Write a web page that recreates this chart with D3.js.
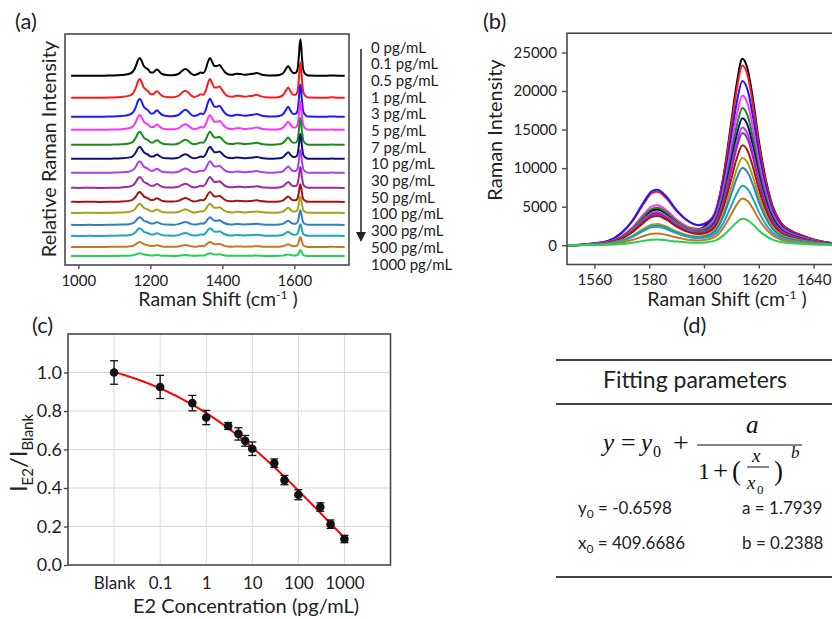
<!DOCTYPE html>
<html>
<head>
<meta charset="utf-8">
<script src="https://cdn.jsdelivr.net/npm/d3@7"></script>
<style>
  body { margin: 0; background: #fff; }
  svg { display: block; font-family: Lato, "Open Sans", sans-serif; fill: #222; }
  .frame { fill: none; stroke: #4a4a4a; stroke-width: 1.6; }
  .axis path { display: none; }
  .axis line { stroke: #4a4a4a; stroke-width: 1.4; }
  .axis text { fill: #222; font-family: Lato, "Open Sans", sans-serif; }
  .grid line { stroke: #d9d9d9; stroke-width: 1; }
  .trace { fill: none; stroke-width: 2; stroke-linejoin: round; }
  .rule { stroke: #444; stroke-width: 2; }
  .math { font-family: "Liberation Serif", "DejaVu Serif", serif; fill: #111; }
</style>
</head>
<body>
<div id="chart"></div>
<script>
// series shared by panels (a) and (b)
const concLabels = ["0 pg/mL", "0.1 pg/mL", "0.5 pg/mL", "1 pg/mL", "3 pg/mL", "5 pg/mL",
  "7 pg/mL", "10 pg/mL", "30 pg/mL", "50 pg/mL", "100 pg/mL", "300 pg/mL", "500 pg/mL", "1000 pg/mL"];
const seriesColors = ["#000000", "#ff1a1a", "#1a1aff", "#ff33ff", "#1a8c1a", "#10107a", "#b03cf0",
  "#9c2b9c", "#a81414", "#a3a31a", "#2f7fc1", "#1ea7b8", "#c7771f", "#22d155"];

// (a) stacked spectra: vertical offset, scale of the minor bands, height of the 1617 band
const offsetsA = [1.89, 1.67, 1.48, 1.35, 1.20, 1.06, 0.92, 0.77, 0.63, 0.52, 0.40, 0.29, 0.18, 0.09];
const minorScaleA = [1.0, 1.05, 1.02, 0.83, 0.74, 0.68, 0.65, 0.61, 0.56, 0.52, 0.43, 0.43, 0.28, 0.15];
const mainPeakA = [0.35, 0.34, 0.31, 0.27, 0.26, 0.24, 0.22, 0.20, 0.17, 0.16, 0.14, 0.11, 0.095, 0.058];
// [Raman shift, minor bands, 1617 band (normalised)]
const spectrumA = [
  [980, 0.003, 0], [1000, 0.002, 0], [1030, 0.003, 0], [1060, 0.002, 0], [1090, 0.005, 0],
  [1120, 0.010, 0], [1140, 0.020, 0], [1152, 0.045, 0], [1160, 0.10, 0], [1166, 0.16, 0],
  [1171, 0.18, 0], [1176, 0.15, 0], [1182, 0.10, 0], [1188, 0.08, 0], [1194, 0.065, 0],
  [1201, 0.035, 0], [1208, 0.035, 0], [1214, 0.055, 0], [1219, 0.065, 0], [1225, 0.045, 0],
  [1233, 0.02, 0], [1245, 0.01, 0], [1262, 0.008, 0], [1278, 0.02, 0], [1288, 0.05, 0],
  [1297, 0.07, 0], [1305, 0.055, 0], [1313, 0.025, 0], [1322, 0.01, 0], [1332, 0.02, 0],
  [1340, 0.035, 0], [1347, 0.03, 0], [1354, 0.07, 0], [1360, 0.14, 0], [1366, 0.18, 0],
  [1372, 0.14, 0], [1378, 0.10, 0], [1385, 0.10, 0], [1392, 0.11, 0], [1399, 0.08, 0],
  [1407, 0.04, 0], [1416, 0.018, 0], [1428, 0.012, 0], [1440, 0.022, 0], [1450, 0.02, 0],
  [1462, 0.012, 0], [1475, 0.018, 0], [1485, 0.022, 0], [1496, 0.03, 0], [1506, 0.018, 0],
  [1520, 0.008, 0], [1540, 0.005, 0], [1558, 0.01, 0], [1568, 0.025, 0], [1576, 0.065, 0],
  [1583, 0.10, 0], [1590, 0.06, 0], [1597, 0.03, 0], [1604, 0.025, 0.02], [1609, 0.025, 0.12],
  [1613, 0.02, 0.55], [1615, 0.018, 0.85], [1617, 0.015, 1.0], [1619, 0.012, 0.85], [1621, 0.01, 0.55],
  [1625, 0.008, 0.15], [1631, 0.006, 0.04], [1640, 0.004, 0], [1660, 0.003, 0], [1690, 0.003, 0],
  [1705, 0.006, 0], [1720, 0.003, 0], [1740, 0.002, 0]
];
const ticksA = [1000, 1200, 1400, 1600];

// (b) raw spectra: heights of the ~1582 and ~1614 bands
const bandLowB = [4300, 6600, 6900, 4900, 4600, 3900, 4100, 3800, 3600, 2600, 2400, 2300, 1450, 680];
const bandHighB = [24000, 23000, 21000, 19200, 17600, 16300, 15100, 14400, 12800, 11200, 9900, 7600, 6000, 3400];
// [Raman shift, 1582 band shape, 1614 band shape]
const spectrumB = [
  [1550, 0, 0], [1555, 0.01, 0], [1560, 0.03, 0.002], [1565, 0.07, 0.004], [1570, 0.22, 0.006],
  [1574, 0.45, 0.008], [1578, 0.78, 0.01], [1581, 0.98, 0.012], [1583, 1.0, 0.014], [1586, 0.88, 0.016],
  [1590, 0.6, 0.02], [1594, 0.38, 0.028], [1598, 0.24, 0.045], [1601, 0.17, 0.08], [1604, 0.12, 0.15],
  [1607, 0.085, 0.35], [1610, 0.06, 0.66], [1612, 0.05, 0.87], [1614, 0.045, 1.0], [1616, 0.04, 0.94],
  [1618, 0.035, 0.77], [1620, 0.03, 0.56], [1622, 0.025, 0.39], [1625, 0.02, 0.21], [1628, 0.015, 0.12],
  [1632, 0.01, 0.075], [1636, 0.008, 0.05], [1640, 0.005, 0.03], [1645, 0.002, 0.015], [1650, 0, 0.008]
];
const ticksBx = [1560, 1580, 1600, 1620, 1640];
const ticksBy = [0, 5000, 10000, 15000, 20000, 25000];

// (c) calibration points
const concNames = ["Blank", "0.1", "0.5", "1", "3", "5", "7", "10", "30", "50", "100", "300", "500", "1000"];
const concValues = [0.01, 0.1, 0.5, 1, 3, 5, 7, 10, 30, 50, 100, 300, 500, 1000];
const ratioValues = [1.0, 0.925, 0.841, 0.766, 0.722, 0.681, 0.645, 0.604, 0.529, 0.441, 0.365, 0.301, 0.212, 0.135];
const ratioErrors = [0.061, 0.06, 0.04, 0.037, 0.018, 0.032, 0.028, 0.035, 0.022, 0.024, 0.026, 0.022, 0.022, 0.019];
const ticksCx = [0.01, 0.1, 1, 10, 100, 1000];
const tickLabelsCx = ["Blank", "0.1", "1", "10", "100", "1000"];
const ticksCy = [0, 0.2, 0.4, 0.6, 0.8, 1.0];

// (d) fitted parameters
const fitY0 = -0.6598;
const fitA = 1.7939;
const fitX0 = 409.6686;
const fitB = 0.2388;

const svg = d3.select("#chart").append("svg").attr("width", 832).attr("height", 619);

const addLabel = (x, y, str, size) =>
  svg.append("text").attr("x", x).attr("y", y).attr("font-size", size).text(str);

const shiftLabel = (x, y) => {
  const t = svg.append("text").attr("x", x).attr("y", y)
    .attr("text-anchor", "middle").attr("font-size", 19.5);
  t.append("tspan").text("Raman Shift (cm");
  t.append("tspan").attr("font-size", 12).attr("dy", -7).text("-1");
  t.append("tspan").attr("dy", 7).text(" )");
};

const drawPanelA = () => {
  const x = d3.scaleLinear().domain([963, 1752]).range([65, 349]);
  const y = d3.scaleLinear().domain([0, 2.31]).range([265, 34]);
  const line = d3.line().curve(d3.curveMonotoneX);
  const g = svg.append("g");

  concLabels.forEach((lab, i) => {
    const pts = spectrumA.map(([w, minor, main]) =>
      [x(w), y(offsetsA[i] + minor * minorScaleA[i] + main * mainPeakA[i])]);
    g.append("path").attr("class", "trace").attr("stroke", seriesColors[i]).attr("d", line(pts));
  });

  g.append("rect").attr("class", "frame")
    .attr("x", 65).attr("y", 34).attr("width", 284).attr("height", 231);

  g.append("g").attr("class", "axis").attr("transform", "translate(0,265)")
    .call(d3.axisBottom(x).tickValues(ticksA).tickSize(4).tickSizeOuter(0).tickPadding(6)
      .tickFormat(d3.format("d")))
    .selectAll("text").attr("font-size", 15);

  svg.append("text").attr("transform", "translate(56,149) rotate(-90)")
    .attr("text-anchor", "middle").attr("font-size", 20).text("Relative Raman Intensity");
  shiftLabel(218, 306);

  // concentration list with arrow
  const rowY = d3.scalePoint().domain(concLabels).range([47, 264]);
  svg.append("line").attr("x1", 361).attr("x2", 361).attr("y1", 49).attr("y2", 234)
    .attr("stroke", "#222").attr("stroke-width", 1.5);
  svg.append("path").attr("d", "M356,232 L366,232 L361,242 Z").attr("fill", "#222");
  svg.append("g").selectAll("text").data(concLabels).join("text")
    .attr("x", 371).attr("y", d => rowY(d) + 5.5).attr("font-size", 15).text(d => d);
};

const drawPanelB = () => {
  const x = d3.scaleLinear().domain([1550, 1650]).range([567, 841]);
  const y = d3.scaleLinear().domain([-2500, 27500]).range([264.5, 33.2]);
  const line = d3.line().curve(d3.curveMonotoneX);
  const g = svg.append("g");

  concLabels.forEach((lab, i) => {
    const pts = spectrumB.map(([w, low, high]) =>
      [x(w), y(low * bandLowB[i] + high * bandHighB[i])]);
    g.append("path").attr("class", "trace").attr("stroke", seriesColors[i]).attr("d", line(pts));
  });

  g.append("rect").attr("class", "frame")
    .attr("x", 567).attr("y", 33.2).attr("width", 274).attr("height", 231.3);

  g.append("g").attr("class", "axis").attr("transform", "translate(0,264.5)")
    .call(d3.axisBottom(x).tickValues(ticksBx).tickSize(4).tickSizeOuter(0).tickPadding(6)
      .tickFormat(d3.format("d")))
    .selectAll("text").attr("font-size", 15);
  g.append("g").attr("class", "axis").attr("transform", "translate(567,0)")
    .call(d3.axisLeft(y).tickValues(ticksBy).tickSize(5).tickSizeOuter(0).tickPadding(5).tickFormat(d3.format("d")))
    .selectAll("text").attr("font-size", 15);

  svg.append("text").attr("transform", "translate(502,130) rotate(-90)")
    .attr("text-anchor", "middle").attr("font-size", 20).text("Raman Intensity");
  shiftLabel(727, 306);
};

const drawPanelC = () => {
  const x = d3.scaleLog().domain([0.001, 10000]).range([68, 390.5]);
  const y = d3.scaleLinear().domain([0, 1.2]).range([565, 334]);
  const g = svg.append("g");

  const grid = g.append("g").attr("class", "grid");
  grid.selectAll(".gx").data(ticksCx).join("line").attr("class", "gx")
    .attr("x1", d => x(d)).attr("x2", d => x(d)).attr("y1", y(0)).attr("y2", y(1.2));
  grid.selectAll(".gy").data(ticksCy.slice(1)).join("line").attr("class", "gy")
    .attr("x1", x(0.001)).attr("x2", x(10000)).attr("y1", d => y(d)).attr("y2", d => y(d));

  // fitted curve from the parameters in (d)
  const fitXs = d3.range(-2, 3.0001, 0.02).map(e => Math.pow(10, e));
  const fitLine = d3.line()
    .x(c => x(c))
    .y(c => y(fitY0 + fitA / (1 + Math.pow(c / fitX0, fitB))));
  g.append("path").attr("d", fitLine(fitXs))
    .attr("fill", "none").attr("stroke", "#ff0000").attr("stroke-width", 2);

  const pts = concValues.map((c, i) => ({ c, v: ratioValues[i], e: ratioErrors[i] }));
  const bars = g.append("g").attr("stroke", "#111").attr("stroke-width", 1.3);
  bars.selectAll(".ev").data(pts).join("line").attr("class", "ev")
    .attr("x1", d => x(d.c)).attr("x2", d => x(d.c))
    .attr("y1", d => y(d.v - d.e)).attr("y2", d => y(d.v + d.e));
  bars.selectAll(".et").data(pts).join("line").attr("class", "et")
    .attr("x1", d => x(d.c) - 4).attr("x2", d => x(d.c) + 4)
    .attr("y1", d => y(d.v + d.e)).attr("y2", d => y(d.v + d.e));
  bars.selectAll(".eb").data(pts).join("line").attr("class", "eb")
    .attr("x1", d => x(d.c) - 4).attr("x2", d => x(d.c) + 4)
    .attr("y1", d => y(d.v - d.e)).attr("y2", d => y(d.v - d.e));
  g.append("g").selectAll("circle").data(pts).join("circle")
    .attr("cx", d => x(d.c)).attr("cy", d => y(d.v)).attr("r", 4.3).attr("fill", "#111");

  g.append("rect").attr("class", "frame")
    .attr("x", 68).attr("y", 334).attr("width", 322.5).attr("height", 231);

  g.append("g").attr("class", "axis").attr("transform", "translate(68,0)")
    .call(d3.axisLeft(y).tickValues(ticksCy).tickSize(4).tickSizeOuter(0).tickPadding(2).tickFormat(d3.format(".1f")))
    .selectAll("text").attr("font-size", 18);
  g.append("g").attr("class", "axis").attr("transform", "translate(0,565)")
    .call(d3.axisBottom(x).tickValues(ticksCx).tickSize(0).tickPadding(12)
      .tickFormat((d, i) => tickLabelsCx[i]))
    .selectAll("text").attr("font-size", 17);

  const t = svg.append("text").attr("transform", "translate(27,453) rotate(-90)")
    .attr("text-anchor", "middle").attr("font-size", 24);
  t.append("tspan").text("I");
  t.append("tspan").attr("font-size", 15).attr("dy", 6).text("E2");
  t.append("tspan").attr("dy", -6).text("/I");
  t.append("tspan").attr("font-size", 15).attr("dy", 6).text("Blank");

  svg.append("text").attr("x", 246).attr("y", 613).attr("text-anchor", "middle")
    .attr("font-size", 20).text("E2 Concentration (pg/mL)");
};

const drawPanelD = () => {
  const g = svg.append("g");
  [360, 404, 577].forEach(yy =>
    g.append("line").attr("class", "rule").attr("x1", 556).attr("x2", 832).attr("y1", yy).attr("y2", yy));

  g.append("text").attr("x", 695).attr("y", 388).attr("text-anchor", "middle")
    .attr("font-size", 23).text("Fitting parameters");

  const m = (x, y, str, size, italic) =>
    g.append("text").attr("class", "math").attr("x", x).attr("y", y)
      .attr("font-size", size).attr("font-style", italic ? "italic" : "normal").text(str);
  m(603, 451, "y", 25, true);
  m(621, 451, "=", 26, false);
  m(641, 451, "y", 25, true);
  m(653, 457, "0", 16, false);
  m(673, 452, "+", 28, false);
  g.append("line").attr("x1", 697).attr("x2", 802).attr("y1", 445).attr("y2", 445)
    .attr("stroke", "#111").attr("stroke-width", 1.2);
  m(746, 433, "a", 25, true);
  m(698, 479, "1", 24, false);
  m(713, 480, "+", 27, false);
  m(732, 480, "(", 27, false);
  m(752, 462, "x", 19, true);
  g.append("line").attr("x1", 747).attr("x2", 769).attr("y1", 467).attr("y2", 467)
    .attr("stroke", "#111").attr("stroke-width", 1);
  m(747, 489, "x", 19, true);
  m(757, 494, "0", 13, false);
  m(774, 480, ")", 27, false);
  m(791, 458, "b", 17, true);

  const param = (x, y, sym, sub, val) => {
    const t = g.append("text").attr("x", x).attr("y", y).attr("font-size", 17);
    t.append("tspan").text(sym);
    if (sub) {
      t.append("tspan").attr("font-size", 12).attr("dy", 4).text(sub);
      t.append("tspan").attr("dy", -4).text(" = " + val);
    } else {
      t.append("tspan").text(" = " + val);
    }
  };
  param(578, 514, "y", "0", fitY0.toFixed(4));
  param(742, 514, "a", "", fitA.toFixed(4));
  param(578, 549, "x", "0", fitX0.toFixed(4));
  param(742, 549, "b", "", fitB.toFixed(4));
};

const main = () => {
  drawPanelA();
  drawPanelB();
  drawPanelC();
  drawPanelD();
  addLabel(15, 29, "(a)", 22);
  addLabel(483, 29, "(b)", 22);
  addLabel(32, 333, "(c)", 22);
  addLabel(683, 333, "(d)", 22);
};

main();
</script>
</body>
</html>
